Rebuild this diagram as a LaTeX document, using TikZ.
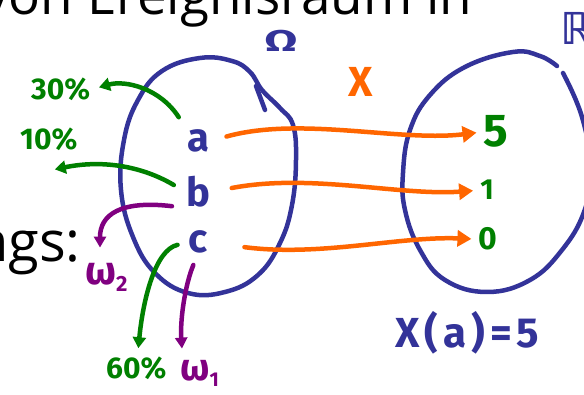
\documentclass[tikz,border=0pt]{standalone}
\usepackage{fontspec}
\setmainfont{Open Sans}
\newfontfamily\handfont{Fira Sans}
\newfontfamily\symbfont{DejaVu Sans}
\usetikzlibrary{arrows.meta,calc}
\definecolor{penblue}{RGB}{51,51,153}
\definecolor{penorange}{RGB}{255,102,0}
\definecolor{pengreen}{RGB}{0,128,0}
\definecolor{penpurple}{RGB}{128,0,128}
\newcommand{\fsz}[1]{\fontsize{#1}{#1}\selectfont}
\newcommand{\inkfont}[1]{\handfont\bfseries\fsz{#1}}

\begin{document}
\begin{tikzpicture}[x=1pt, y=-1pt,
    pen/.style={line width=4.5pt, line cap=round, line join=round},
    hand/.style={inner sep=0pt, anchor=base},
    elem/.style={hand, text=penblue},
    val/.style={hand, text=pengreen},
    maparrow/.style={pen, draw=penorange, -{Triangle[length=14pt,width=16pt]}, shorten <=18pt, shorten >=7pt},
    probarrow/.style={pen, draw=pengreen, -{Triangle[length=11pt,width=13pt]}},
    outcomearrow/.style={pen, draw=penpurple, -{Triangle[length=11pt,width=12pt]}}]
  \useasboundingbox (0,0) rectangle (584,395);
  \clip (0,0) rectangle (584,395);
  \fill[white] (0,0) rectangle (584,395);

  % slide text behind the ink
  \node[anchor=base west, inner sep=0pt, font=\fsz{53}] (title) at (-18,15) {von Ereignisraum in};
  \node[anchor=base east, inner sep=0pt, font=\fsz{56}] (body) at (81,262) {ngs:};

  % Omega
  \draw[pen, draw=penblue] plot[smooth cycle, tension=0.7] coordinates {(200,58) (232,61) (250,72) (262,90) (280,108) (293,125) (296,160) (292,205) (280,243) (258,275) (225,292) (188,293) (155,273) (133,237) (121,190) (124,140) (138,100) (162,71)};
  \draw[pen, draw=penblue] (256,86) -- (265,110);
  \node[elem, font=\inkfont{30}] (omega) at (281,52) {\scalebox{1.6}[1]{Ω}};
  \node[elem, font=\inkfont{40}] (a) at (198,152) {a};
  \node[elem, font=\inkfont{40}] (b) at (198,207) {b};
  \node[elem, font=\inkfont{40}] (c) at (198,253) {c};

  % R
  \draw[pen, draw=penblue] plot[smooth, tension=0.7] coordinates {(563,73) (582,117) (591,170) (584,212) (562,250) (530,280) (487,292) (445,280) (420,250) (405,210) (403,173) (410,130) (430,95) (465,67) (513,52) (540,56) (557,66)};
  \node[elem, anchor=base west, font=\symbfont\bfseries\fsz{44}] (reals) at (560,45) {ℝ};
  \node[val, font=\inkfont{46}] (n5) at (496,147) {5};
  \node[val, font=\inkfont{29}] (n1) at (487,200) {1};
  \node[val, font=\inkfont{32}] (n0) at (488,250) {0};

  % X maps a,b,c
  \node[hand, text=penorange, font=\inkfont{42}] (xmap) at (361,97) {X};
  \draw[maparrow] (a.east) .. controls (300,116) and (400,142) .. (n5.west);
  \draw[maparrow, shorten <=22pt] (b.east) .. controls (310,173) and (400,196) .. (n1.west);
  \draw[maparrow, shorten <=37pt] (c.east) .. controls (320,257) and (400,236) .. (n0.west);
  \node[elem, anchor=base west, font=\inkfont{42}\addfontfeature{LetterSpace=12}] (xa) at (395,348) {X(a)=5};

  % probabilities
  \node[val, anchor=base west, font=\inkfont{30}] (p30) at (31,100) {30\%};
  \node[val, anchor=base west, font=\inkfont{30}] (p10) at (20,150) {10\%};
  \node[val, anchor=base west, font=\inkfont{30}] (p60) at (106,378) {60\%};
  \draw[probarrow, shorten <=15pt, shorten >=9pt] (a.north west) .. controls (160,88) and (125,80) .. (p30.east);
  \draw[probarrow, shorten <=14pt] (b.west) .. controls (140,165) and (100,160) .. ($(p10.south)+(6,18)$);
  \draw[probarrow, shorten <=11pt] (c.west) .. controls (155,250) and (143,300) .. ($(p60.north)+(2,-8)$);

  % outcomes
  \node[hand, anchor=base west, text=penpurple, font=\inkfont{40}] (w2) at (85,285) {ω\raisebox{-7pt}{\fsz{22}2}};
  \node[hand, anchor=base west, text=penpurple, font=\inkfont{38}] (w1) at (180,381) {ω\raisebox{-6pt}{\fsz{20}1}};
  \draw[outcomearrow, shorten <=14pt] (b.south west) .. controls (120,200) and (100,215) .. ($(w2.north west)+(15,-16)$);
  \draw[outcomearrow, shorten <=12pt] (c.south) .. controls (185,285) and (180,320) .. ($(w1.north west)+(2,-12)$);
\end{tikzpicture}
\end{document}
